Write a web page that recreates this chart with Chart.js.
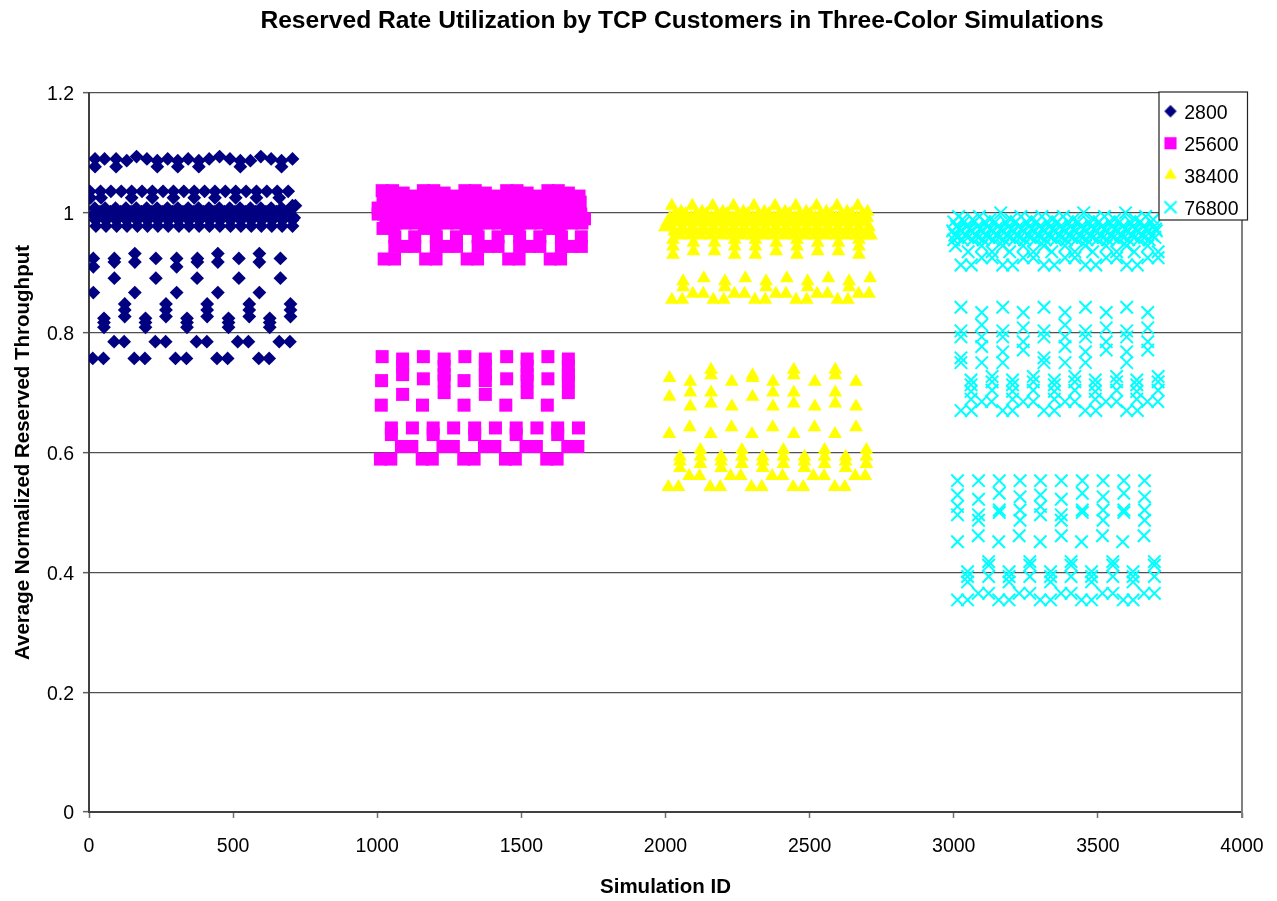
<!DOCTYPE html>
<html><head><meta charset="utf-8">
<style>html,body{margin:0;padding:0;background:#fff}canvas{display:block}</style>
<script src="https://cdn.jsdelivr.net/npm/chart.js@4"></script>
</head><body><canvas id="c" width="1277" height="901"></canvas>
<script>
const chartTitle = "Reserved Rate Utilization by TCP Customers in Three-Color Simulations";
const xTitle = "Simulation ID";
const yTitle = "Average Normalized Reserved Throughput";
const seriesNames = ["2800","25600","38400","76800"];

// each row: [throughput, [simulation ids]]
const rows2800 = [
 [1.094,[165,453,596]],
 [1.090,[21,54,94,201,273,344,417,489,632,706]],
 [1.087,[131,237,308,381,525,560,668]],
 [1.077,[21,94,237,308,381,525,668]],
 [1.036,[3,40,76,112,148,184,220,257,293,329,365,401,437,473,509,545,581,617,653,691]],
 [1.025,[5,42,148,220,293,365,437,509,581,660]],
 [1.012,[716,706]],
 [1.008,[20,56,92,128,164,200,236,272,308,344,380,416,452,488,524,560,596,632,668]],
 [1.002,[38,74,110,146,182,218,254,290,326,362,398,434,470,506,542,578,614,650,686]],
 [0.997,[14,50,86,122,158,194,230,266,302,338,374,410,446,482,518,554,590,626,662,698]],
 [0.992,[32,68,104,140,176,212,248,284,320,356,392,428,464,500,536,572,608,644,680,712]],
 [0.988,[22,58,94,130,166,202,238,274,310,346,382,418,454,490,526,562,598,634,670,706]],
 [0.978,[24,59,96,132,168,203,239,275,312,347,382,418,454,491,527,563,598,634,670,706]],
 [0.932,[159,447,591]],
 [0.924,[15,88,232,304,376,520,664]],
 [0.918,[88,159,447,591,376]],
 [0.910,[15,304]],
 [0.891,[88,232,375,520,664]],
 [0.867,[15,159,304,447,591]],
 [0.848,[124,267,410,556,699]],
 [0.838,[124,267,410,556,699]],
 [0.827,[124,267,410,556,699]],
 [0.824,[52,196,340,484,627]],
 [0.817,[52,196,340,484,627]],
 [0.809,[52,196,340,484,627]],
 [0.785,[87,122,230,266,373,409,516,553,660,697]],
 [0.757,[13,50,157,194,300,338,444,481,589,625]]
];
const rows25600 = [
 [1.037,[1017,1053,1160,1196,1304,1340,1449,1485,1592,1628]],
 [1.033,[1090,1232,1375,1520,1663]],
 [1.028,[1125,1270,1410,1556,1700]],
 [1.018,[1020,1056,1092,1128,1164,1200,1236,1272,1308,1344,1380,1416,1452,1488,1524,1560,1596,1632,1668,1704]],
 [1.008,[1003,1040,1076,1112,1148,1184,1220,1256,1292,1328,1364,1400,1436,1472,1508,1544,1580,1616,1652,1688]],
 [0.998,[1003,1022,1058,1094,1130,1166,1202,1238,1274,1310,1346,1382,1418,1454,1490,1526,1562,1598,1634,1670,1706]],
 [0.990,[1030,1066,1102,1138,1174,1210,1246,1282,1318,1354,1390,1426,1462,1498,1534,1570,1606,1642,1678,1719]],
 [0.983,[1062,1098,1132,1206,1242,1276,1350,1386,1420,1494,1530,1566,1640,1674,1710]],
 [0.974,[1020,1056,1164,1200,1308,1344,1452,1488,1596,1632]],
 [0.960,[1061,1130,1205,1275,1350,1419,1494,1564,1639,1708]],
 [0.944,[1061,1096,1130,1205,1240,1275,1350,1384,1419,1494,1529,1564,1639,1673,1708]],
 [0.923,[1024,1060,1168,1204,1312,1348,1456,1492,1600,1636]],
 [0.760,[1017,1160,1304,1449,1592]],
 [0.756,[1088,1232,1375,1520,1663]],
 [0.744,[1088,1232,1375,1520,1663]],
 [0.730,[1088,1232,1375,1520,1663]],
 [0.723,[1160,1449,1592]],
 [0.720,[1015,1232,1301,1375,1520,1663]],
 [0.700,[1232,1520,1663]],
 [0.697,[1088,1375]],
 [0.679,[1014,1157,1301,1446,1590]],
 [0.641,[1049,1122,1194,1265,1338,1410,1482,1554,1626,1698]],
 [0.630,[1049,1194,1338,1482,1626]],
 [0.610,[1084,1120,1228,1264,1372,1408,1516,1552,1661,1696]],
 [0.589,[1011,1047,1156,1191,1300,1336,1445,1479,1588,1624]]
];
const rows38400 = [
 [1.012,[2022,2093,2164,2236,2307,2380,2452,2524,2595,2667]],
 [1.002,[2054,2127,2199,2270,2343,2415,2488,2558,2630,2701]],
 [0.998,[2034,2070,2106,2142,2178,2214,2250,2286,2322,2358,2394,2430,2466,2502,2538,2574,2610,2646,2682]],
 [0.992,[2016,2052,2088,2124,2160,2196,2232,2268,2304,2340,2376,2412,2448,2484,2520,2556,2592,2628,2664,2700]],
 [0.984,[2006,2040,2076,2112,2148,2184,2220,2256,2292,2328,2364,2400,2436,2472,2508,2544,2580,2616,2652,2688]],
 [0.976,[1998,2022,2058,2094,2130,2166,2202,2238,2274,2310,2346,2382,2418,2454,2490,2526,2562,2598,2634,2670,2706]],
 [0.969,[2030,2066,2102,2138,2174,2210,2246,2282,2318,2354,2390,2426,2462,2498,2534,2570,2606,2642,2678]],
 [0.962,[2050,2086,2122,2158,2194,2230,2266,2302,2338,2374,2410,2446,2482,2518,2554,2590,2626,2662,2698,2713]],
 [0.955,[2026,2240,2312,2456,2671]],
 [0.950,[2097,2170,2384,2528,2600]],
 [0.944,[2026,2240,2312,2456,2671]],
 [0.936,[2097,2170,2384,2528,2600]],
 [0.930,[2026,2240,2312,2456,2671]],
 [0.891,[2133,2277,2421,2565,2710]],
 [0.886,[2061,2206,2349,2493,2637]],
 [0.876,[2061,2206,2349,2493,2637]],
 [0.865,[2095,2131,2239,2274,2383,2418,2526,2562,2670,2706]],
 [0.855,[2022,2058,2166,2202,2310,2346,2453,2490,2597,2633]],
 [0.738,[2158,2445,2589]],
 [0.729,[2158,2302,2445,2589]],
 [0.7245,[2014,2302]],
 [0.718,[2086,2230,2373,2518,2661]],
 [0.700,[2086,2158,2373,2445,2589]],
 [0.693,[2014,2302]],
 [0.682,[2158,2445,2589]],
 [0.677,[2086,2230,2373,2518,2661]],
 [0.642,[2084,2229,2372,2517,2661]],
 [0.631,[2013,2157,2300,2445,2588]],
 [0.604,[2121,2265,2409,2552,2697]],
 [0.593,[2121,2265,2409,2552,2697,2050,2193,2337,2482,2625]],
 [0.585,[2050,2193,2337,2482,2625]],
 [0.581,[2121,2265,2409,2552,2697]],
 [0.574,[2050,2193,2337,2482,2625]],
 [0.561,[2082,2118,2226,2261,2370,2406,2513,2550,2658,2693]],
 [0.5426,[2010,2045,2155,2190,2298,2334,2443,2478,2587,2622]]
];
const rows76800 = [
 [1.000,[3163,3451,3596]],
 [0.994,[3017,3089,3233,3306,3380,3523,3666]],
 [0.989,[3030,3066,3126,3198,3270,3342,3414,3486,3558,3630,3692]],
 [0.985,[3000,3036,3072,3108,3144,3180,3216,3252,3288,3324,3360,3396,3432,3468,3504,3540,3576,3612,3648,3684]],
 [0.977,[3010,3046,3082,3118,3154,3190,3226,3262,3298,3334,3370,3406,3442,3478,3514,3550,3586,3622,3658,3694]],
 [0.973,[3018,3054,3090,3126,3162,3198,3234,3270,3306,3342,3378,3414,3450,3486,3522,3558,3594,3630,3666,3700]],
 [0.970,[2996,3024,3060,3096,3132,3168,3204,3240,3276,3312,3348,3384,3420,3456,3492,3528,3564,3600,3636,3672,3703]],
 [0.963,[3004,3040,3076,3112,3148,3184,3220,3256,3292,3328,3364,3400,3436,3472,3508,3544,3580,3616,3652,3688]],
 [0.959,[3014,3050,3086,3122,3158,3194,3230,3266,3302,3338,3374,3410,3446,3482,3518,3554,3590,3626,3662,3698]],
 [0.955,[3000,3030,3066,3102,3138,3174,3210,3246,3282,3318,3354,3390,3426,3462,3498,3534,3570,3606,3642,3678]],
 [0.945,[3006,3097,3170,3241,3313,3386,3457,3529,3600,3673]],
 [0.935,[3050,3133,3194,3276,3340,3420,3482,3565,3626,3709]],
 [0.925,[3097,3133,3241,3276,3386,3420,3529,3565,3673,3709]],
 [0.913,[3025,3061,3170,3204,3313,3349,3457,3493,3600,3637]],
 [0.8425,[3025,3170,3313,3457,3600]],
 [0.8336,[3097,3241,3386,3529,3673]],
 [0.813,[3097,3386]],
 [0.808,[3241,3529,3673]],
 [0.803,[3025,3170,3313,3457,3600]],
 [0.793,[3025,3097,3170,3313,3386,3457,3600]],
 [0.785,[3241,3529,3673]],
 [0.777,[3097,3386]],
 [0.771,[3241,3529,3673]],
 [0.768,[3170,3457,3600]],
 [0.758,[3025,3313]],
 [0.750,[3025,3097,3170,3313,3386,3457,3600]],
 [0.727,[3133,3276,3420,3565,3709]],
 [0.721,[3060,3204,3349,3491,3635]],
 [0.718,[3133,3276,3420,3565,3709]],
 [0.713,[3060,3204,3349,3491,3635]],
 [0.704,[3133,3276,3420,3565,3709]],
 [0.702,[3060,3204,3349,3491,3635]],
 [0.689,[3060,3204,3349,3491,3635]],
 [0.685,[3097,3131,3241,3276,3386,3420,3528,3565,3672,3708]],
 [0.670,[3025,3061,3170,3204,3313,3349,3456,3493,3600,3637]],
 [0.553,[3013,3086,3158,3230,3301,3373,3446,3518,3590,3662]],
 [0.532,[3158,3446,3590]],
 [0.529,[3013,3301]],
 [0.526,[3230,3518,3662]],
 [0.522,[3086,3373]],
 [0.510,[3013,3301]],
 [0.504,[3158,3230,3446,3518,3590,3662]],
 [0.500,[3158,3446,3590]],
 [0.496,[3013,3086,3301,3373]],
 [0.487,[3086,3230,3373,3518,3662]],
 [0.461,[3085,3227,3373,3516,3660]],
 [0.451,[3013,3156,3300,3443,3586]],
 [0.418,[3121,3264,3407,3552,3696]],
 [0.412,[3121,3264,3407,3552,3696]],
 [0.401,[3048,3192,3336,3478,3622]],
 [0.393,[3048,3121,3192,3264,3336,3407,3478,3552,3622,3696]],
 [0.384,[3048,3192,3336,3478,3622]],
 [0.365,[3085,3121,3227,3264,3372,3407,3516,3552,3660,3696]],
 [0.354,[3013,3048,3156,3192,3300,3336,3443,3478,3588,3622]]
];

const xTicks = [0,500,1000,1500,2000,2500,3000,3500,4000];
const yTicks = [0,0.2,0.4,0.6,0.8,1,1.2];

const toPoints = rows => rows.flatMap(([y, xs]) => xs.map(x => ({x, y})));
const looks = [
 {data:rows2800,  color:"#000080", style:"rectRot",  r:6.9, bw:0, lr:6.2},
 {data:rows25600, color:"#ff00ff", style:"rect",     r:9.2, bw:0, lr:8.6},
 {data:rows38400, color:"#ffff00", style:"triangle", r:8.0, bw:0, lr:7.2},
 {data:rows76800, color:"#00ffff", style:"crossRot", r:8.8, bw:2, lr:8.6}
];
const datasets = looks.map((s,i)=>({
  label: seriesNames[i],
  data: toPoints(s.data),
  showLine:false,
  pointStyle:s.style,
  pointRadius:s.r,
  pointBackgroundColor:s.color,
  pointBorderColor:s.color,
  pointBorderWidth:s.bw,
  pointHoverRadius:s.r
}));

// legend markers at the reference's size, slightly above the text's middle
function legendMarker(s){
  const cv=document.createElement('canvas'); cv.width=24; cv.height=24;
  const g=cv.getContext('2d');
  g.fillStyle=s.color; g.strokeStyle=s.color; g.lineWidth=s.bw;
  Chart.helpers.drawPoint(g,{pointStyle:s.style,radius:s.lr,rotation:0,borderWidth:s.bw},12,10);
  return cv;
}

const legendBox={left:1159,top:92,right:1247.5,bottom:220};
const frame={
  id:'frame',
  afterLayout(chart){
    const l=chart.legend;
    l.left=legendBox.left-5; l.right=legendBox.right+50; l.top=legendBox.top-1; l.bottom=legendBox.bottom+200;
    const t=chart.titleBlock;
    t.left=122; t.right=1242;
  },
  beforeDatasetsDraw(chart){
    const a=chart.chartArea, c=chart.ctx;
    c.save(); c.strokeStyle='#808080'; c.lineWidth=2;
    c.beginPath(); c.moveTo(a.right,a.top-1); c.lineTo(a.right,a.bottom+6); c.stroke();
    c.restore();
  },
  afterDraw(chart){
    const c=chart.ctx,b=legendBox;
    c.save(); c.fillStyle='#fff'; c.strokeStyle='#222'; c.lineWidth=1.2;
    c.fillRect(b.left,b.top,b.right-b.left,b.bottom-b.top);
    c.strokeRect(b.left,b.top,b.right-b.left,b.bottom-b.top);
    c.restore();
    chart.legend.draw();
  }
};
const FONT='"Liberation Sans", Arial, sans-serif';
new Chart(document.getElementById('c'),{
  type:'scatter',
  data:{datasets},
  plugins:[frame],
  options:{
    responsive:false, animation:false,
    layout:{padding:{left:0,right:35,top:0,bottom:0}},
    plugins:{
      tooltip:{enabled:false},
      title:{display:true,text:chartTitle,color:'#000',
        font:{family:FONT,size:24.6,weight:'bold',lineHeight:1.2},
        padding:{top:6,bottom:57.5}},
      legend:{display:true,position:'chartArea',align:'start',
        labels:{color:'#000',font:{family:FONT,size:19.5},usePointStyle:true,boxWidth:8,boxHeight:12,padding:12.5,
          generateLabels:()=>looks.map((s,i)=>({text:seriesNames[i],pointStyle:legendMarker(s),datasetIndex:i,hidden:false,lineWidth:0,strokeStyle:'transparent',fillStyle:'transparent',fontColor:'#000'}))
        }}
    },
    scales:{
      x:{type:'linear',min:0,max:4000,
        afterFit(s){s.height=89;s.paddingRight=0;s.paddingLeft=0;},
        afterBuildTicks(s){s.ticks=xTicks.map(v=>({value:v}));},
        title:{display:true,text:xTitle,color:'#000',font:{family:FONT,size:20.5,weight:'bold'},padding:{top:13,bottom:1}},
        border:{display:true,color:'#404040',width:2},
        grid:{display:true,drawOnChartArea:false,drawTicks:true,tickLength:6,tickColor:'#707070',tickWidth:1.5},
        ticks:{color:'#000',font:{family:FONT,size:19.5},padding:17,maxRotation:0,autoSkip:false,callback:v=>String(v)}
      },
      y:{type:'linear',min:0,max:1.2,
        afterFit(s){s.width=89;},
        afterBuildTicks(s){s.ticks=yTicks.map(v=>({value:v}));},
        title:{display:true,text:yTitle,color:'#000',font:{family:FONT,size:20.5,weight:'bold'},padding:{top:11,bottom:0}},
        border:{display:true,color:'#404040',width:2},
        grid:{display:true,color:'#505050',lineWidth:1.3,drawTicks:true,tickLength:6,tickColor:'#606060',tickWidth:1.5},
        ticks:{color:'#000',font:{family:FONT,size:19.5},padding:9,labelOffset:2,autoSkip:false,callback:v=>String(v)}
      }
    }
  }
});
</script></body></html>
